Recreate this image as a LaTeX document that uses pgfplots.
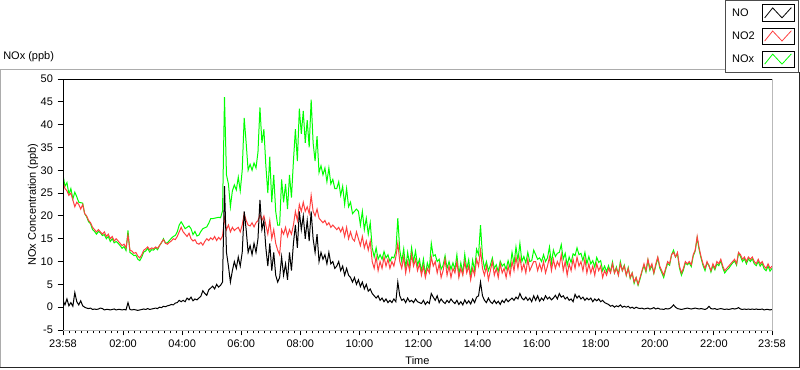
\documentclass[border=0pt]{standalone}
\usepackage{fontspec}
\setmainfont{Liberation Sans}
\usepackage{pgfplots}
\usepackage{pgfplotstable}
\pgfplotsset{compat=1.18}
\definecolor{noxgreen}{RGB}{0,255,0}
\definecolor{notwored}{RGB}{255,64,64}
\newcommand{\lvfont}{\fontsize{8.25}{10}\selectfont}

\pgfplotstableread{
t NO NO2
0 1.5 27.5
4 0.5 26
8 1.8 25.5
12 0.3 24.5
16 1.0 25
20 0.2 23.5
24 3.2 22
28 1.2 23
32 0.5 22.5
36 1.4 21.5
40 0.3 22.5
44 0.0 20.5
48 -0.2 20
52 -0.3 19
56 -0.2 18.5
60 -0.5 17.5
64 -0.4 17
68 -0.5 16.5
72 -0.4 17
76 -0.2 16.5
80 -0.3 16
84 -0.6 16.5
88 -0.5 15.5
92 -0.5 16
96 -0.6 15
100 -0.5 15.5
104 -0.4 14.5
108 -0.6 15
112 -0.5 14.5
116 -0.5 14
120 -0.6 13.5
124 -0.5 13.8
128 -0.6 13
132 1.0 15.8
136 -0.5 12.5
140 -0.6 12.3
144 -0.5 11.8
148 -0.6 12
152 -0.7 11.2
156 -0.6 10.8
160 -0.5 11.5
164 -0.4 12.5
168 -0.5 12.8
172 -0.3 13.2
176 -0.5 12.6
180 -0.4 13
184 -0.3 12.8
188 -0.2 13.2
192 -0.3 12.9
196 0.0 13.5
200 -0.1 14.2
204 0.2 14.8
208 0.1 14
212 0.3 13.8
216 0.4 14.2
220 0.6 14.5
224 0.5 15
228 0.9 14.8
232 1.0 15.5
236 1.5 16.5
240 1.2 17.5
244 1.5 16.5
248 1.2 16
252 2.0 15.5
256 1.6 16.2
260 2.2 15
264 1.4 14.5
268 1.8 14.8
272 1.6 14
276 2.0 13.8
280 2.4 14.2
284 3.6 13.6
288 3.0 14.4
292 2.6 15
296 3.8 14.6
300 4.2 15.2
304 4.6 14.8
308 4.0 15.5
312 5.0 14.6
316 4.4 15.3
320 4.8 14.8
324 5.5 15.6
328 26.5 19.5
332 12 17
336 9 18
340 5.5 16.5
344 8 17.5
348 10 16.8
352 8.5 17.2
356 11 17.5
360 9 16.5
364 12 18
368 21 20.5
372 17 19
376 12 18
380 13.5 17.8
384 11.5 18.5
388 14 17.6
392 12 18.5
396 15 19
400 23.5 20.3
404 17 19
408 19 20
412 13 18
416 9 16
420 14 19
424 8 15
428 12 17
432 7 14
436 5.5 12.5
440 6.5 11.5
444 11 17
448 7 16
452 9.5 17.5
456 6 15.5
460 12 17
464 8 16
468 14 18
472 18 21
476 13 19
480 21 22.5
484 17 21
488 20 23
492 15 21
496 19 22
500 14.5 20.5
504 21 24.5
508 15 21
512 12 20
516 16 21.5
520 10 19.5
524 12 19
528 10.5 18.5
532 11.5 19
536 9.5 18
540 12 18.5
544 9.5 17.5
548 10 18
552 8.5 17.5
556 9 17
560 10 17.5
564 8 16.5
568 9 17.5
572 7 15.5
576 8.5 17.5
580 7 15
584 6.5 16.5
588 5.5 15
592 6.5 14.5
596 5 16.5
600 6 15
604 4.5 13.5
608 5.5 15.5
612 4 13
616 5 14.5
620 3.5 12.5
624 4 14.5
628 3 10
632 2.5 8.5
636 2 11
640 2.5 8
644 1.5 10
648 2 8.5
652 1.2 11
656 1.8 9
660 1.0 10.5
664 1.5 8.5
668 1.0 10
672 1.8 9
676 1.2 11
680 5.5 14
684 2.5 10
688 1.5 8.5
692 1.8 11
696 1.0 7.5
700 2.0 10
704 1.2 8
708 1.5 11.5
712 1.0 9
716 1.8 10.5
720 1.2 8
724 1.0 9.5
728 0.8 7
732 1.5 9
736 0.6 6.5
740 1.2 8.5
744 0.8 7.5
748 3.0 11
752 2.2 9
756 1.5 10
760 2.5 7.5
764 1.0 9.5
768 1.8 6.5
772 1.2 8
776 0.8 10.5
780 1.5 7
784 1.0 9
788 1.8 6.5
792 1.2 8.5
796 0.8 7.5
800 1.5 10
804 0.6 6.5
808 1.2 8.5
812 0.5 7
816 1.6 10
820 0.8 7.5
824 1.4 9
828 0.7 6
832 1.8 8.5
836 1.0 7
840 2.2 10.5
844 2.5 9
848 5.5 12.5
852 2.5 8.5
856 1.5 7
860 1.0 9
864 2.0 6
868 1.2 8
872 0.8 10
876 1.5 7
880 0.8 8.5
884 1.3 6.5
888 0.6 9.5
892 1.5 7.5
896 1.0 8.5
900 1.8 6.5
904 1.2 9
908 1.6 7
912 2.0 10
916 1.5 8
920 2.2 11
924 1.8 8.5
928 3.0 11
932 2.0 8
936 1.6 9.5
940 2.2 7.5
944 1.5 10.5
948 2.0 8
952 1.2 9
956 2.5 10
960 1.5 10
964 2.5 8
968 1.3 9.5
972 2.0 8
976 1.5 10
980 2.5 7.5
984 1.8 9
988 2.2 11
992 1.6 8
996 2.0 10.5
1000 2.6 8.5
1004 1.8 10
1008 3.0 9
1012 2.2 11.5
1016 2.5 8
1020 1.8 10
1024 2.2 7
1028 1.5 9.5
1032 1.8 8
1036 1.2 10.5
1040 2.8 8.5
1044 2.0 11
1048 2.5 9
1052 1.8 10
1056 2.2 8
1060 1.5 10.5
1064 2.0 7.5
1068 1.6 9.5
1072 2.0 7.5
1076 1.2 9
1080 1.8 7
1084 1.4 9.5
1088 1.8 8
1092 1.2 9
1096 1.5 6.5
1100 1.0 8
1104 0.8 7
1108 0.6 8.5
1112 0.2 7.5
1116 0.4 9.5
1120 0.0 7.5
1124 0.3 8.5
1128 0.1 7
1132 0.5 9.5
1136 0.0 8
1140 0.2 9
1144 0.0 7
1148 0.2 8.5
1152 -0.2 6.5
1156 0.0 7.5
1160 -0.3 5.5
1164 0.0 6.5
1168 -0.2 5
1172 -0.3 6.5
1176 -0.2 8
1180 -0.4 9.5
1184 -0.3 8
1188 -0.2 10.5
1192 -0.4 8.5
1196 -0.3 9.5
1200 -0.1 7.5
1204 -0.4 9.5
1208 -0.2 11
1212 -0.4 9
1216 -0.4 8
1220 -0.5 7
1224 -0.3 8.5
1228 -0.4 10
1232 -0.3 9.5
1236 0.0 11.5
1240 0.5 12
1244 0.0 11
1248 -0.3 12
1252 -0.4 9
1256 -0.5 7.5
1260 -0.4 8.5
1264 -0.3 10
1268 -0.2 9.5
1272 -0.3 10
1276 -0.4 9.3
1280 -0.3 11.5
1284 -0.2 12.5
1288 -0.3 15.5
1292 -0.4 13
1296 -0.3 11
1300 -0.4 9.5
1304 -0.5 8.5
1308 -0.3 10
1312 0.2 9
1316 -0.3 8
1320 -0.4 9.5
1324 -0.3 8.5
1328 -0.5 10
1332 -0.4 9.5
1336 -0.3 10.5
1340 -0.4 9
1344 -0.5 8
1348 -0.4 8.5
1352 -0.5 9
1356 -0.4 9.5
1360 -0.3 10
1364 -0.4 10.5
1368 -0.3 9.5
1372 -0.1 12
1376 -0.4 11.5
1380 -0.5 10.5
1384 -0.4 11
1388 -0.5 10
1392 -0.4 11
1396 -0.5 10.5
1400 -0.4 11
1404 -0.5 10
1408 -0.4 9.5
1412 -0.5 10.5
1416 -0.5 9.5
1420 -0.4 10
1424 -0.6 9
1428 -0.5 8.5
1432 -0.5 9.5
1436 -0.6 8.5
1440 -0.5 9
}\datatable

\begin{document}
\begin{tikzpicture}[x=0.75pt,y=0.75pt]
\useasboundingbox (0,0) rectangle (800,369);
% outer panel frame
\draw[color=gray!65, line width=0.75pt] (0.5,1.5) -- (0.5,299.5) -- (730,299.5);
\draw[color=black!85, line width=0.75pt] (0,1.5) -- (799.5,1.5) -- (799.5,297);
\node[anchor=west, font=\lvfont, inner sep=0pt] at (3,312) {NOx (ppb)};
\begin{axis}[
  at={(47.25pt,29.25pt)}, anchor=south west, scale only axis,
  width=531.75pt, height=188.25pt,
  xmin=0, xmax=1440, ymin=-5, ymax=50,
  clip mode=individual,
  axis line style={draw=none},
  tick pos=left, tick align=outside,
  xtick={0,122,242,362,482,602,722,842,962,1082,1202,1322,1440},
  xticklabels={23:58,02:00,04:00,06:00,08:00,10:00,12:00,14:00,16:00,18:00,20:00,22:00,23:58},
  minor xtick={2,14,...,1430},
  ytick={-5,0,5,10,15,20,25,30,35,40,45,50},
  yticklabels={-5,0,5,10,15,20,25,30,35,40,45,50},
  major tick length=4pt, minor tick length=2.5pt,
  every tick/.style={black, line width=0.75pt},
  tick label style={font=\lvfont, black},
  xlabel={Time}, ylabel={NOx Concentration (ppb)},
  label style={font=\lvfont},
  xlabel style={at={(axis description cs:0.5,-0.1235)}, anchor=center},
  ylabel style={at={(axis description cs:-0.0423,0.5)}, anchor=center},
  reverse legend,
  legend plot pos=right,
  legend cell align=left,
  legend style={at={(axis description cs:1.0381,1.315)}, anchor=north east,
    draw=gray!60!black, line width=0.75pt, fill=white, font=\lvfont,
    inner xsep=3pt, inner ysep=3pt, row sep=4.2pt,
    /tikz/every odd column/.append style={column sep=3pt}},
  legend image code/.code={
    \draw[black, line width=0.75pt, fill=white, solid] (0pt,-6.2pt) rectangle (24pt,6.2pt);
    \draw[#1, line width=0.6pt] (2pt,-3.5pt) -- (8pt,4pt) -- (15pt,-3.5pt) -- (22pt,4.2pt);
  },
]
\addplot[noxgreen, line width=0.75pt] table[x=t, y expr=\thisrow{NO}+\thisrow{NO2}] {\datatable};
\addlegendentry{NOx}
\addplot[notwored, line width=0.75pt] table[x=t, y=NO2] {\datatable};
\addlegendentry{NO2}
\addplot[black, line width=0.75pt] table[x=t, y=NO] {\datatable};
\addlegendentry{NO}
\draw[black, line width=0.75pt] (rel axis cs:0,0) -- (rel axis cs:0,1) -- (rel axis cs:1,1);
\draw[gray!55, line width=0.75pt] (rel axis cs:1,1) -- (rel axis cs:1,0) -- (rel axis cs:0,0);
\end{axis}
\end{tikzpicture}
\end{document}
